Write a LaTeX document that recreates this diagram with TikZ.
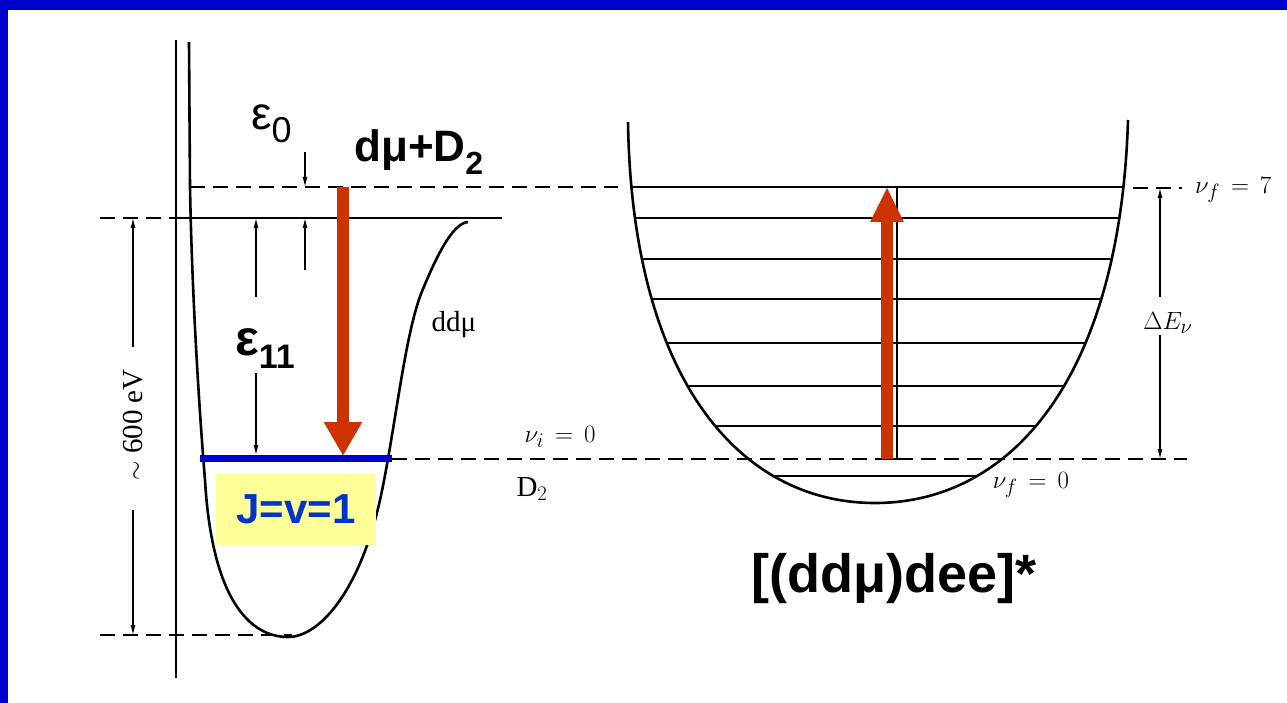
\documentclass[tikz,border=0pt]{standalone}
\usepackage{fontspec}
\setmainfont{Liberation Serif}
\setsansfont{Liberation Sans}
\usetikzlibrary{arrows.meta}
\definecolor{slideBlue}{HTML}{0000CC}
\definecolor{arrowRed}{HTML}{CC3300}
\definecolor{labelBlue}{HTML}{0033CC}
\definecolor{boxYellow}{HTML}{FFFF99}

\begin{document}
\begin{tikzpicture}[x=1pt, y=-1pt,
  level/.style={line width=1.8pt},
  dashlevel/.style={line width=2pt, dash pattern=on 15pt off 8pt},
  curve/.style={line width=2.6pt, line join=round},
  dim/.style={line width=1.1pt, -{Latex[length=10pt,width=5pt]}},
  scan/.style={font=\fontsize{29}{31}\selectfont, inner sep=0pt},
  bigsans/.style={font=\sffamily\bfseries\fontsize{44}{48}\selectfont, inner sep=0pt},
  transition/.style={arrowRed, line width=12pt}]
  \useasboundingbox (0,0) rectangle (1287,703);

  % slide frame
  \fill[slideBlue] (0,0) rectangle (1287,10);
  \fill[slideBlue] (0,0) rectangle (8,703);

  % energy axis
  \draw[line width=1.3pt] (176,40) -- (176,678);

  % ddmu potential
  \draw[curve] (189,42) -- (190,187) .. controls (192,300) and (200,420) .. (205,480)
    .. controls (212,600) and (250,637) .. (288,637)
    .. controls (320,637) and (360,590) .. (380,500)
    .. controls (395,432) and (405,330) .. (423,289)
    .. controls (435,260) and (452,223) .. (468,222);

  % levels of the left diagram
  \draw[dashlevel] (190,187) -- (618,187);
  \draw[dashlevel] (100,218) -- (176,218);
  \draw[level] (176,218) -- (502,218);
  \draw[dashlevel] (100,635) -- (292,635);
  \draw[dashlevel] (392,459) -- (1187,459);

  % [(ddmu)dee]* potential and its vibrational levels
  \begin{scope}
    \clip (628,122) .. controls (632,380) and (740,503) .. (875,503)
      .. controls (1010,503) and (1120,380) .. (1128,120) -- cycle;
    \foreach \y in {187,218,259,299,343,386,426,476}
      \draw[level] (600,\y) -- (1150,\y);
  \end{scope}
  \draw[curve] (628,122) .. controls (632,380) and (740,503) .. (875,503)
    .. controls (1010,503) and (1120,380) .. (1128,120);
  \draw[dashlevel] (1133,188) -- (1182,188);

  % level coordinates
  \coordinate (eTop) at (305,187);
  \coordinate (eMid) at (305,218);
  \coordinate (eLow) at (256,218);
  \coordinate (jLevel) at (256,455);
  \coordinate (axTop) at (133,218);
  \coordinate (axBot) at (133,635);
  \coordinate (dETop) at (1160,188);
  \coordinate (dEBot) at (1160,459);
  \coordinate (vTop) at (897,187);
  \coordinate (vBot) at (897,459);

  % dimension arrows
  \draw[dim] (305,152) -- (eTop);
  \draw[dim] (305,270) -- (eMid);
  \draw[dim] (256,297) -- (eLow);
  \draw[dim] (256,373) -- (jLevel);
  \draw[dim] (133,347) -- (axTop);
  \draw[dim] (133,510) -- (axBot);
  \draw[dim] (1160,297) -- (dETop);
  \draw[dim] (1160,333) -- (dEBot);
  \draw[line width=1.3pt] (vTop) -- (vBot);
  \draw[line width=2pt] (880,459) -- (905,459);

  % J=v=1 level
  \draw[slideBlue, line width=7pt] (200,458) -- (392,458);
  \node[fill=boxYellow, text=labelBlue, font=\sffamily\bfseries\fontsize{42}{46}\selectfont,
    minimum width=160pt, minimum height=71pt, inner sep=0pt] (jv) at (296,509.5) {J=v=1};

  % transitions
  \coordinate (dropStart) at (343,187);
  \coordinate (dropEnd) at (343,456);
  \coordinate (riseStart) at (887,459);
  \coordinate (riseEnd) at (887,187);
  \draw[transition, -{Triangle[length=34pt,width=36pt]}] (dropStart) -- (dropEnd);
  \draw[transition, -{Triangle[length=35pt,width=31pt]}] (riseStart) -- (riseEnd);

  % labels
  \node[anchor=base west, inner sep=0pt, font=\sffamily\fontsize{46}{50}\selectfont] (eps0)
    at (251,130) {ε\raisebox{-13pt}{\fontsize{36}{40}\selectfont 0}};
  \node[anchor=base west, bigsans] (dmuD) at (354,162)
    {dμ+D\raisebox{-13pt}{\fontsize{32}{36}\selectfont 2}};
  \node[anchor=base west, inner sep=0pt, font=\sffamily\bfseries\fontsize{50}{54}\selectfont]
    (eps11) at (235,355) {ε\raisebox{-13pt}{\fontsize{34}{38}\selectfont 11}};
  \node[scan] (ddmu) at (454,325) {ddμ};
  \node[scan, rotate=90] (ev) at (133,425) {$\sim$ 600 eV};
  \node[scan] (vi) at (560,437) {$\nu_i\,=\,0$};
  \node[scan] (dtwo) at (532,489) {D$_2$};
  \node[scan] (vf0) at (1031,485) {$\nu_f\,=\,0$};
  \node[scan, anchor=west] (vf7) at (1195,190) {$\nu_f\,=\,7$};
  \node[scan, fill=white, inner sep=2pt] (dE) at (1168,323) {$\Delta E_\nu$};
  \node[anchor=base, bigsans, font=\sffamily\bfseries\fontsize{54}{58}\selectfont]
    (complex) at (894,592) {[(ddμ)dee]*};
\end{tikzpicture}
\end{document}
